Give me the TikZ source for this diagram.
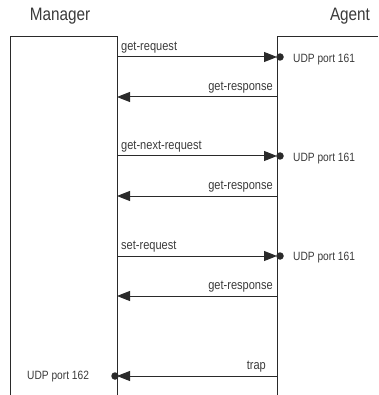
\documentclass[tikz,border=0pt]{standalone}
\usepackage{fontspec}
\setmainfont[FakeStretch=0.85]{Liberation Sans}
\usetikzlibrary{arrows.meta}
\definecolor{ink}{HTML}{2A2A2A}
\definecolor{txt}{HTML}{3A3A3A}
\begin{document}
\begin{tikzpicture}[x=1pt,y=-1pt,
  lifeline/.style={draw=ink,line width=1pt},
  msg/.style={draw=ink,line width=1pt,-{Triangle[length=13pt,width=10pt]}},
  lbl/.style={inner sep=0pt,text=txt,font=\fontsize{13}{14}\selectfont},
  udp/.style={inner sep=0pt,text=txt,font=\fontsize{12}{14}\selectfont},
  head/.style={inner sep=0pt,text=txt,font=\fontsize{18}{20}\selectfont},
  port/.style={circle,fill=ink,inner sep=0pt,minimum size=7.5pt}]
\useasboundingbox (0,0) rectangle (378,395);
% boxes
\draw[lifeline] (10,395) -- (10,37) -- (117,37) -- (117,395);
\draw[lifeline] (277,395) -- (277,37) -- (378,37);
\node[head] (manager) at (60,16) {Manager};
\node[head] (agent) at (350,16) {Agent};
% lifeline coordinates
\foreach \n/\y in {a/57,b/97,c/156,d/196,e/256,f/296,g/376}{
  \coordinate (m\n) at (117,\y);
  \coordinate (g\n) at (277,\y);
}
% requests
\draw[msg] (ma) -- (ga);
\node[port] (pa) at (280,57) {};
\node[lbl,anchor=south west] (la) at (121,53) {get-request};
\node[udp,anchor=west] (ua) at (293,60) {UDP port 161};
\draw[msg] (gb) -- (mb);
\node[lbl,anchor=south east] (lb) at (273,93) {get-response};
\draw[msg] (mc) -- (gc);
\node[port] (pc) at (280,156) {};
\node[lbl,anchor=south west] (lc) at (121,152) {get-next-request};
\node[udp,anchor=west] (uc) at (293,159) {UDP port 161};
\draw[msg] (gd) -- (md);
\node[lbl,anchor=south east] (ld) at (273,192) {get-response};
\draw[msg] (me) -- (ge);
\node[port] (pe) at (280,256) {};
\node[lbl,anchor=south west] (le) at (121,252) {set-request};
\node[udp,anchor=west] (ue) at (293,258) {UDP port 161};
\draw[msg] (gf) -- (mf);
\node[lbl,anchor=south east] (lf) at (273,292) {get-response};
% trap
\draw[msg] (gg) -- (mg);
\node[port] (pg) at (115,376) {};
\node[lbl,anchor=south east] (lg) at (266,372) {trap};
\node[udp,anchor=west] (ug) at (27,377) {UDP port 162};
\end{tikzpicture}
\end{document}
